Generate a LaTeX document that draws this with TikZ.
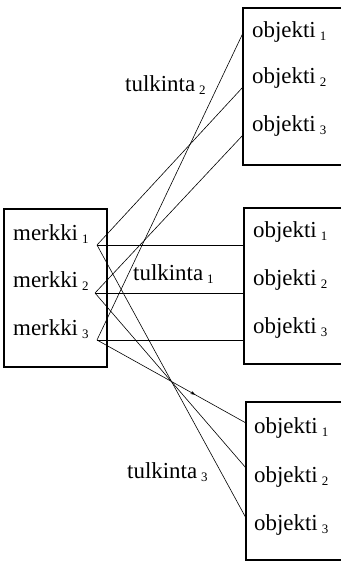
\documentclass[tikz,border=0pt]{standalone}
\usepackage{fontspec}
\setmainfont{Liberation Serif}
\usetikzlibrary{decorations.markings,arrows.meta}
\newcommand{\lbl}[2]{#1\hspace{4bp}\raisebox{-3bp}{\fontsize{13}{13}\selectfont #2}}
\begin{document}
\begin{tikzpicture}[x=1bp,y=-1bp,
  box/.style={line width=1.6bp},
  conn/.style={line width=0.6bp},
  txt/.style={anchor=base west,inner sep=0pt,font=\fontsize{23}{23}\selectfont}]
\useasboundingbox (0,0) rectangle (341,561);
% boxes
\draw[box] (4,209) rectangle (107,367);
\draw[box] (341,8) -- (243,8) -- (243,165) -- (341,165);
\draw[box] (341,208) -- (244,208) -- (244,364) -- (341,364);
\draw[box] (341,402) -- (246,402) -- (246,560) -- (341,560);
% left labels
\node[txt] (mt1) at (13,240) {\lbl{merkki}{1}};
\node[txt] (mt2) at (13,287) {\lbl{merkki}{2}};
\node[txt] (mt3) at (13,335) {\lbl{merkki}{3}};
% right labels
\node[txt] (ot1) at (252,38) {\lbl{objekti}{1}};
\node[txt] (ot2) at (252,84) {\lbl{objekti}{2}};
\node[txt] (ot3) at (252,132) {\lbl{objekti}{3}};
\node[txt] (oc1) at (253,237) {\lbl{objekti}{1}};
\node[txt] (oc2) at (253,285) {\lbl{objekti}{2}};
\node[txt] (oc3) at (253,333) {\lbl{objekti}{3}};
\node[txt] (ob1) at (254,433) {\lbl{objekti}{1}};
\node[txt] (ob2) at (254,482) {\lbl{objekti}{2}};
\node[txt] (ob3) at (254,530) {\lbl{objekti}{3}};
% interpretation labels
\node[txt] (tk2) at (125,92) {\lbl{tulkinta}{2}};
\node[txt] (tk1) at (133,280) {\lbl{tulkinta}{1}};
\node[txt] (tk3) at (127,478) {\lbl{tulkinta}{3}};
% connector points
\coordinate (m1) at (97,245);
\coordinate (m2) at (95,293);
\coordinate (m3) at (97,340);
\coordinate (t1) at (243,33);
\coordinate (t2) at (243,87);
\coordinate (t3) at (243,135);
\coordinate (c1) at (244,245);
\coordinate (c2) at (244,293);
\coordinate (c3) at (244,340);
\coordinate (b1) at (246,423);
\coordinate (b2) at (246,468);
\coordinate (b3) at (246,518);
% tulkinta 1
\draw[conn] (m1) -- (c1);
\draw[conn] (m2) -- (c2);
\draw[conn] (m3) -- (c3);
% tulkinta 2
\draw[conn] (m3) -- (t1);
\draw[conn] (m1) -- (t2);
\draw[conn] (m2) -- (t3);
% tulkinta 3
\draw[conn,postaction={decorate},decoration={markings,mark=at position 0.66 with {\arrow{Stealth[length=5bp,width=3.5bp]}}}] (m3) -- (b1);
\draw[conn] (m2) -- (b2);
\draw[conn] (m1) -- (b3);
\end{tikzpicture}
\end{document}
